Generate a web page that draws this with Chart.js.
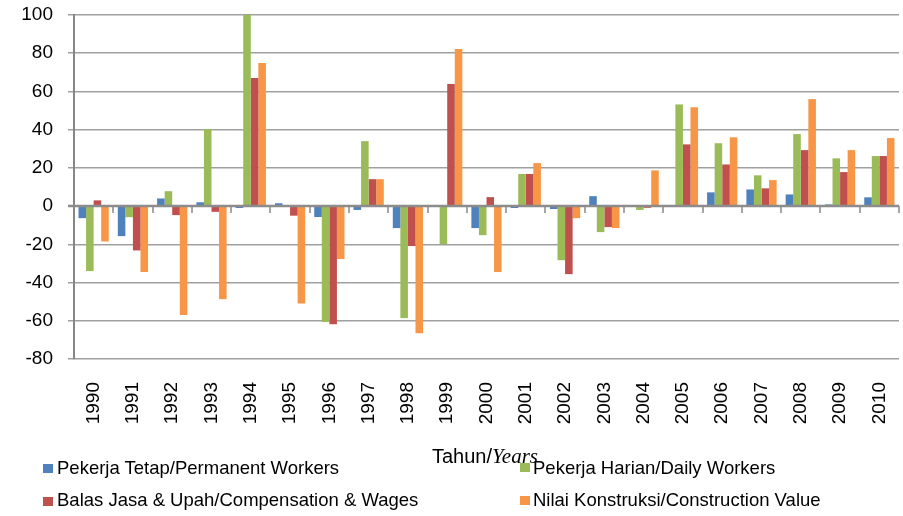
<!DOCTYPE html>
<html>
<head>
<meta charset="utf-8">
<script src="https://cdn.jsdelivr.net/npm/chart.js@4.4.0/dist/chart.umd.min.js"></script>
<style>
  html, body { margin: 0; padding: 0; background: #ffffff; }
  #wrap { position: relative; width: 903px; height: 516px; overflow: hidden; }
  canvas { position: absolute; left: 0; top: 0; }
  .lg { position: absolute; font-family: 'Liberation Sans', Arial, sans-serif; font-size: 18.5px; line-height: 18.5px; color: #000; white-space: nowrap; }
  .sw { position: absolute; width: 10px; height: 9px; }
  #xtitle { position: absolute; left: 432px; top: 446px; font-family: 'Liberation Sans', Arial, sans-serif; font-size: 20px; line-height: 20px; color: #000; white-space: nowrap; }
  #xtitle i { font-family: 'Liberation Serif', 'Times New Roman', serif; font-size: 21px; }
</style>
</head>
<body>
<div id="wrap">
  <canvas id="c" width="903" height="516"></canvas>
  <div id="xtitle">Tahun/<i>Years</i></div>
  <div id="legend"></div>
</div>
<script>
const categories = ['1990','1991','1992','1993','1994','1995','1996','1997','1998','1999','2000','2001','2002','2003','2004','2005','2006','2007','2008','2009','2010'];
const permanentWorkers = [-6.3, -15.7, 4, 2, -1, 1.5, -5.7, -2, -11.5, 0, -11.5, -1, -1.5, 5.2, 0, 0, 7.2, 8.7, 6.1, 0.9, 4.6];
const dailyWorkers = [-34, -5.8, 7.8, 40.3, 100, 0, -60.7, 34, -58.6, -19.9, -15.2, 16.8, -28.3, -13.6, -2, 53.2, 32.9, 16.1, 37.7, 25, 26.2];
const compensationWages = [3, -23.2, -4.7, -3, 67, -5, -61.8, 14.1, -20.9, 63.9, 4.7, 16.8, -35.6, -11, -0.9, 32.3, 21.8, 9.3, 29.3, 17.8, 26.2];
const constructionValue = [-18.5, -34.5, -57, -48.7, 74.9, -51, -27.7, 14.1, -66.5, 82.2, -34.5, 22.5, -6.3, -11.5, 18.7, 51.7, 36, 13.6, 56, 29.3, 35.6];
const yTicks = [-80, -60, -40, -20, 0, 20, 40, 60, 80, 100];
const seriesNames = ['Pekerja Tetap/Permanent Workers', 'Pekerja Harian/Daily Workers', 'Balas Jasa & Upah/Compensation & Wages', 'Nilai Konstruksi/Construction Value'];
const seriesColors = ['#4F81BD', '#9BBB59', '#C0504D', '#F79646'];

const FONT = "'Liberation Sans', Arial, sans-serif";

const zeroAxisPlugin = {
  id: 'zeroAxis',
  afterDatasetsDraw(chart) {
    const { ctx, chartArea, scales } = chart;
    const x = scales.x, y = scales.y;
    const y0 = y.getPixelForValue(0);
    ctx.save();
    ctx.strokeStyle = '#a6a6a6';
    ctx.lineWidth = 2;
    const half = (x.getPixelForValue(1) - x.getPixelForValue(0)) / 2;
    for (let i = 0; i < categories.length; i++) {
      const px = Math.round(x.getPixelForValue(i) + half);
      ctx.beginPath();
      ctx.moveTo(px, y0);
      ctx.lineTo(px, y0 + 7);
      ctx.stroke();
    }
    ctx.strokeStyle = '#8c8c8c';
    ctx.lineWidth = 2.5;
    ctx.beginPath();
    ctx.moveTo(chartArea.left - 6, y0);
    ctx.lineTo(chartArea.right, y0);
    ctx.stroke();
    ctx.restore();
  }
};

const data = {
  labels: categories,
  datasets: [permanentWorkers, dailyWorkers, compensationWages, constructionValue].map((vals, i) => ({
    label: seriesNames[i],
    data: vals,
    backgroundColor: seriesColors[i],
    borderWidth: 0,
    categoryPercentage: 0.77,
    barPercentage: 1.0
  }))
};

new Chart(document.getElementById('c'), {
  type: 'bar',
  data,
  plugins: [zeroAxisPlugin],
  options: {
    responsive: false,
    animation: false,
    devicePixelRatio: 1,
    layout: { padding: { left: 0, right: 4, top: 15, bottom: 0 } },
    plugins: { legend: { display: false }, tooltip: { enabled: false }, title: { display: false } },
    scales: {
      x: {
        offset: true,
        grid: { display: false, drawTicks: false },
        border: { display: false },
        ticks: {
          minRotation: 90, maxRotation: 90, autoSkip: false, padding: 23,
          color: '#000', font: { family: FONT, size: 19 }
        },
        afterFit: s => { s.height = 157; s.paddingLeft = 0; s.paddingRight = 0; }
      },
      y: {
        min: -80, max: 100,
        afterBuildTicks: s => { s.ticks = yTicks.map(v => ({ value: v })); },
        grid: {
          color: '#a0a0a0', lineWidth: 1.5, drawTicks: true, tickLength: 6, tickColor: '#a0a0a0'
        },
        border: { display: true, color: '#868686', width: 2 },
        ticks: { padding: 15, color: '#000', font: { family: FONT, size: 19 } },
        afterFit: s => { s.width = 74; s.paddingTop = 0; s.paddingBottom = 0; }
      }
    }
  }
});

const legendPos = [
  { sx: 43, sy: 464, tx: 57, ty: 459 },
  { sx: 520, sy: 463, tx: 533, ty: 459 },
  { sx: 43, sy: 497, tx: 57, ty: 491 },
  { sx: 520, sy: 496, tx: 533, ty: 491 }
];
const lg = document.getElementById('legend');
seriesNames.forEach((name, i) => {
  const p = legendPos[i];
  const sw = document.createElement('div');
  sw.className = 'sw';
  sw.style.left = p.sx + 'px'; sw.style.top = p.sy + 'px';
  sw.style.background = seriesColors[i];
  lg.appendChild(sw);
  const t = document.createElement('div');
  t.className = 'lg';
  t.style.left = p.tx + 'px'; t.style.top = p.ty + 'px';
  t.textContent = name;
  lg.appendChild(t);
});
</script>
</body>
</html>
